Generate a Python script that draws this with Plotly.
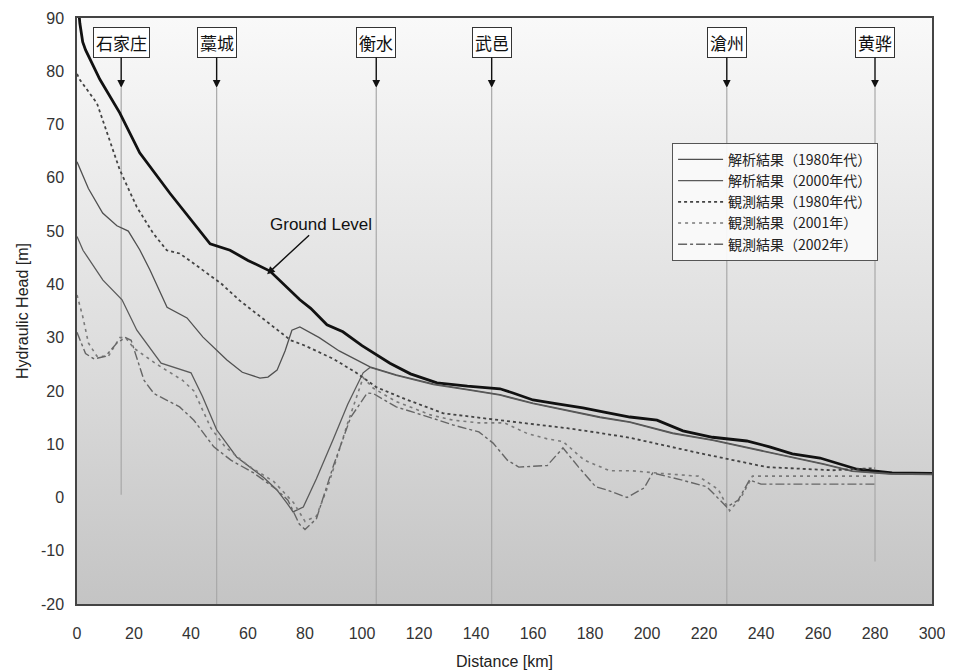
import plotly.graph_objects as go

# ---------------- data ----------------
ground_km = [0, 1, 2, 3, 8, 15, 22, 32.6, 46.7, 53.7, 60, 67.7, 78.2, 82, 87.7, 93.3, 100, 109.8,
             117, 126.3, 137, 148.4, 153, 160, 168, 177.5, 185, 194, 203.5, 212.6, 223, 235, 243,
             251, 260.7, 273.7, 286, 300]
ground_val = [95, 89, 85.5, 84, 78.5, 72.2, 64.7, 57.1, 47.6, 46.4, 44.5, 42.5, 37.1, 35.5, 32.4,
              31.1, 28.5, 25.2, 23.2, 21.5, 20.9, 20.4, 19.6, 18.3, 17.6, 16.8, 16.0, 15.1, 14.5,
              12.5, 11.3, 10.6, 9.5, 8.2, 7.4, 5.3, 4.6, 4.5]

ana1980_km = [0, 4, 9, 14, 18, 22, 25.6, 31.6, 38.6, 44.2, 52.6, 58, 64.2, 67, 70.2, 73, 75.4, 78.2,
              85, 92, 102.8, 112, 125, 137, 148.4, 160, 172, 183.5, 194, 209, 223, 236, 249, 262,
              272, 285, 300]
ana1980_val = [63, 58, 53.4, 51, 50, 46.5, 42.7, 35.7, 33.7, 30.1, 25.8, 23.5, 22.4, 22.6, 23.9,
               27.5, 31.4, 32.0, 30, 27.5, 24.5, 23, 21.3, 20.3, 19.3, 17.7, 16.3, 15.1, 14.2, 12.1,
               10.8, 9.3, 7.8, 6.3, 5.0, 4.5, 4.4]

ana2000_km = [0, 2.1, 9.1, 15.8, 21, 29.5, 40, 44, 49, 56, 65.4, 70, 73.6, 75.8, 79.4, 84, 89.8, 95,
              100.4, 102.8, 112, 125, 137, 148.4, 160, 172, 183.5, 194, 209, 223, 236, 249, 262,
              272, 285, 300]
ana2000_val = [49, 46.4, 40.8, 37.1, 31.4, 25.2, 23.4, 19, 12.7, 7.6, 3.8, 1.5, -1.0, -2.7, -1.8, 3.5,
               10.8, 17.5, 23.4, 24.4, 22.9, 21.2, 20.2, 19.2, 17.6, 16.2, 15.0, 14.1, 12.0, 10.7,
               9.2, 7.7, 6.2, 4.9, 4.4, 4.3]

obs1980_km = [0, 1, 7, 15, 21, 26.7, 31.5, 36, 42, 50.5, 57, 64.6, 75, 80, 90, 98, 105, 115, 128.5,
              148.4, 172, 183.5, 194, 218.6, 242, 265, 280]
obs1980_val = [79.5, 78.4, 74, 61.5, 54.5, 49.6, 46.4, 45.8, 43.5, 40.2, 37.0, 33.9, 29.5, 28.5, 26,
               23.4, 20.7, 18.5, 15.8, 14.5, 13.0, 12.1, 11.2, 8.3, 5.7, 5.1, 5.5]

obs2001_km = [0, 2, 4, 7, 11, 15, 17, 20, 28, 37, 41, 47, 52, 60, 69, 76, 80, 84, 88, 95, 100.4,
              104, 112, 124, 132, 141, 150, 158, 165, 170.5, 178, 187, 195, 205, 218, 225, 229,
              233, 237, 250, 265, 280]
obs2001_val = [38, 34, 29, 26.5, 26.5, 30, 30, 28, 25, 22, 20, 13, 9.5, 6, 3, -1, -4.5, -3.5, 2, 14,
               22.5, 20.5, 18, 15.5, 14.5, 14, 14, 12, 11, 10.5, 7, 5, 5, 4.5, 4, 1.5, -2.5, 0, 4,
               4, 4, 4]

obs2002_km = [0, 3, 6, 10, 14, 17, 19, 23.5, 27, 36, 41, 48, 54, 62, 70, 74, 78, 80, 84, 90, 96,
              101.8, 104, 112, 124, 132, 141, 146, 151, 155, 165, 170.5, 176, 182, 186, 193, 199,
              202, 212, 221, 228, 232, 236, 240, 260, 280]
obs2002_val = [31, 27, 26, 26.5, 29, 30, 29.5, 22, 19.5, 17, 14.5, 9.5, 7, 4.6, 1.5, -0.5, -5, -6,
               -4, 6, 15, 19.6, 19.5, 17, 15, 13.6, 12.3, 10.2, 7, 5.7, 6, 9.3, 5.7, 2, 1.4, 0, 1.8,
               4.6, 3.3, 2, -1.8, -0.5, 3.3, 2.5, 2.5, 2.5]

city_names = ["石家庄", "藁城", "衡水", "武邑", "滄州", "黄骅"]
city_km = [15.5, 49, 105, 145.5, 228, 280]
city_line_bottom = [0.5, -20, -20, -20, -20, -12]

legend_names = ["解析結果（1980年代）", "解析結果（2000年代）", "観測結果（1980年代）",
                "観測結果（2001年）", "観測結果（2002年）"]

x_range = [0, 300]
y_range = [-20, 90]
x_ticks = list(range(0, 301, 20))
y_ticks = list(range(-20, 91, 10))
y_tick_text = ["-20", "-10", "0", "10", "20", "30", "40", "50", "60", "70", "80", "90"]

arrow_tip_val = 76.9
label_val = 85.4

# ---------------- figure ----------------
fig = go.Figure()

# gradient background of plot area
fig.add_trace(go.Scatter(
    x=[x_range[0], x_range[1], x_range[1], x_range[0], x_range[0]],
    y=[y_range[0], y_range[0], y_range[1], y_range[1], y_range[0]],
    mode="lines", line=dict(width=0), fill="toself",
    fillgradient=dict(type="vertical",
                      colorscale=[[0, "#c4c4c4"], [0.45, "#dedede"], [1, "#f9f9f9"]]),
    showlegend=False, hoverinfo="skip"))

# vertical city lines
for km, bot in zip(city_km, city_line_bottom):
    fig.add_trace(go.Scatter(x=[km, km], y=[arrow_tip_val, bot], mode="lines",
                             line=dict(color="#a8a8a8", width=1.2),
                             showlegend=False, hoverinfo="skip"))

# ground level
fig.add_trace(go.Scatter(x=ground_km, y=ground_val, mode="lines",
                         line=dict(color="#111111", width=2.8),
                         showlegend=False))

fig.add_trace(go.Scatter(x=ana1980_km, y=ana1980_val, mode="lines", name=legend_names[0],
                         line=dict(color="#505050", width=1.3)))
fig.add_trace(go.Scatter(x=ana2000_km, y=ana2000_val, mode="lines", name=legend_names[1],
                         line=dict(color="#5a5a5a", width=1.3)))
fig.add_trace(go.Scatter(x=obs1980_km, y=obs1980_val, mode="lines", name=legend_names[2],
                         line=dict(color="#444444", width=1.8, dash="dot")))
fig.add_trace(go.Scatter(x=obs2001_km, y=obs2001_val, mode="lines", name=legend_names[3],
                         line=dict(color="#7a7a7a", width=1.6, dash="3px,4px")))
fig.add_trace(go.Scatter(x=obs2002_km, y=obs2002_val, mode="lines", name=legend_names[4],
                         line=dict(color="#666666", width=1.4, dash="dashdot")))

annotations = []
for name, km in zip(city_names, city_km):
    annotations.append(dict(
        x=km, y=arrow_tip_val, xref="x", yref="y",
        ax=km, ay=label_val, axref="x", ayref="y",
        text=name, showarrow=True, arrowhead=2, arrowsize=1.1, arrowwidth=1.4,
        arrowcolor="#111111", standoff=0,
        font=dict(family="Noto Sans CJK JP", size=17, color="#111111"),
        bgcolor="#ffffff", bordercolor="#333333", borderwidth=1, borderpad=2))

annotations.append(dict(
    x=66.7, y=41.9, xref="x", yref="y", ax=85.6, ay=51.3, axref="x", ayref="y",
    text="Ground Level", showarrow=True, arrowhead=2, arrowsize=1.1, arrowwidth=1.4,
    arrowcolor="#111111",
    font=dict(family="Liberation Sans, Arial", size=17, color="#111111")))

# The page body adds an ~8px margin, so the figure is shrunk/offset accordingly.
fig.update_layout(
    width=945, height=662,
    margin=dict(l=69, r=21, t=10, b=66, autoexpand=False),
    paper_bgcolor="#ffffff", plot_bgcolor="#ffffff",
    font=dict(family="Liberation Sans, Arial", size=16, color="#222222"),
    annotations=annotations,
    legend=dict(x=0.696, y=0.787, xanchor="left", yanchor="top",
                bgcolor="rgba(250,250,250,0.95)", bordercolor="#555555", borderwidth=1,
                font=dict(family="Noto Sans CJK JP", size=14, color="#222222"),
                tracegroupgap=0, itemwidth=45),
    xaxis=dict(range=x_range, tickvals=x_ticks, showgrid=False, zeroline=False,
               showline=True, linecolor="#444444", linewidth=1.5, mirror=True,
               ticks="", ticklabelstandoff=14, automargin=False,
               title=dict(text="Distance [km]", font=dict(size=16), standoff=21),
               tickfont=dict(size=16, color="#333333")),
    yaxis=dict(range=y_range, tickvals=y_ticks, ticktext=y_tick_text, showgrid=False,
               zeroline=False, showline=True, linecolor="#444444", linewidth=1.5, mirror=True,
               ticks="", ticklabelstandoff=8, automargin=False,
               title=dict(text="Hydraulic Head [m]", font=dict(size=16), standoff=8),
               tickfont=dict(size=16, color="#333333")),
)

fig.write_html("out.html")
